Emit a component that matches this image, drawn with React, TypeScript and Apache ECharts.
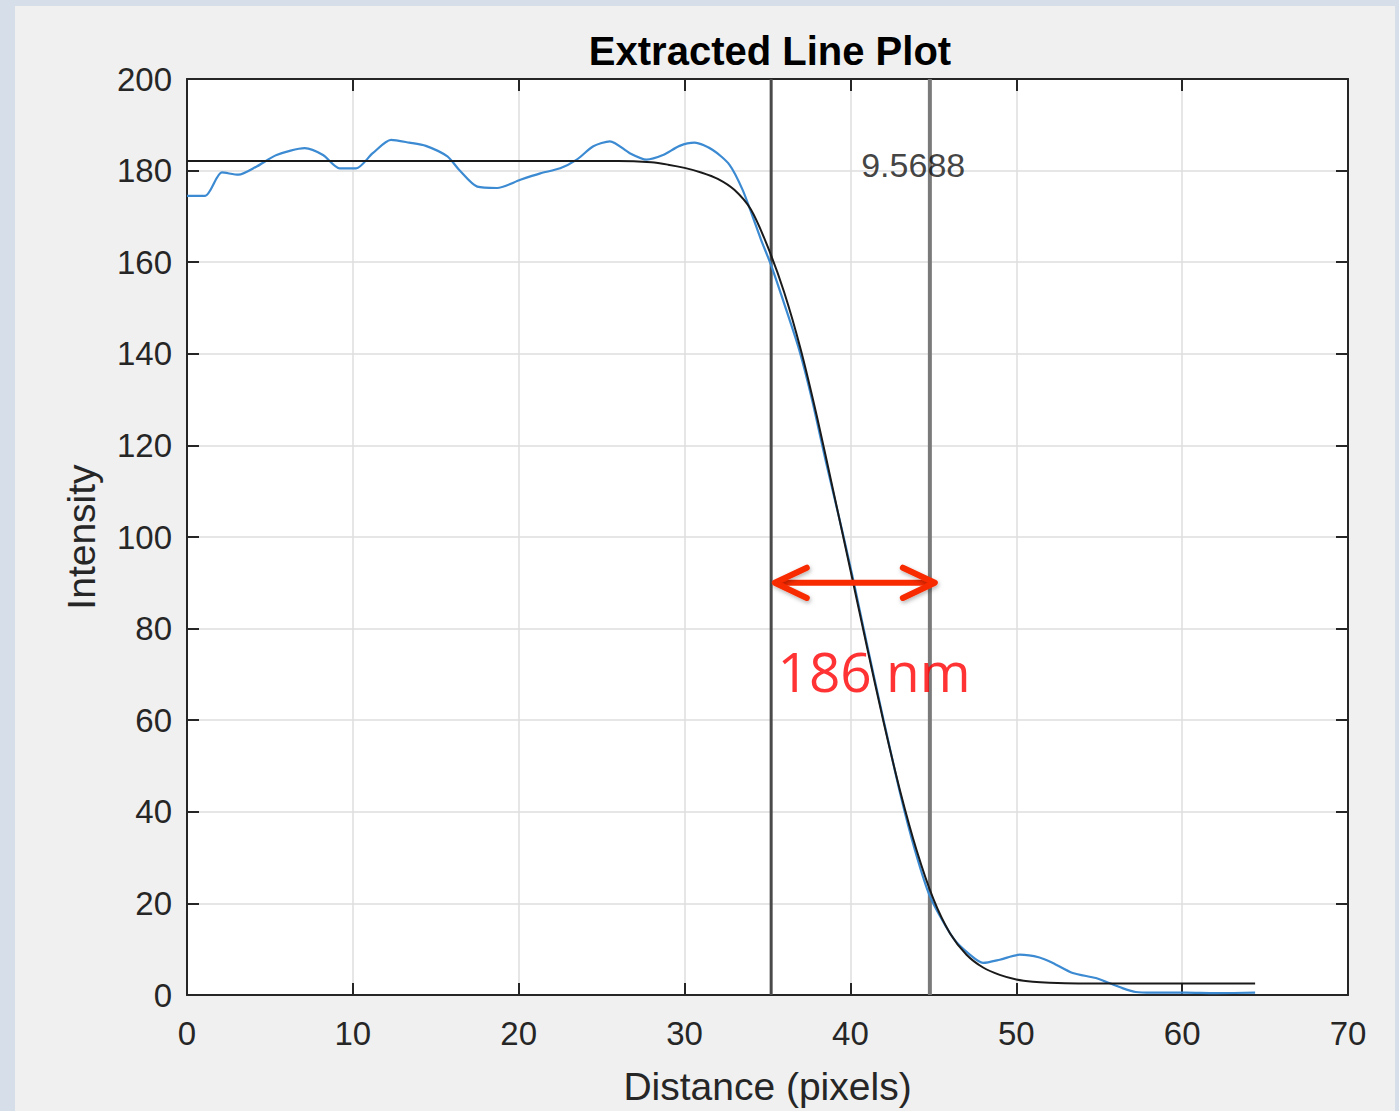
import React, { useEffect, useRef } from "react";
import * as echarts from "echarts";

// Measured blue profile: [distance (pixels), intensity]
const profileX = [0, 1.1, 2.1, 3.1, 4.2, 5.4, 7.1, 8.2, 9.2, 10.2, 11.2, 12.3, 13.4, 14.4, 15.7, 16.4, 17.5, 18.7, 20.1, 21.3, 22.5, 23.5, 24.5, 25.5, 26.7, 27.7, 28.7, 29.7, 30.6, 31.7, 32.7, 33.5, 34.1, 34.6, 35.2, 36.0, 36.9, 37.65, 38.55, 39.56, 40.27, 40.97, 41.97, 43.0, 43.9, 44.8, 46.2, 47.2, 48.0, 49.0, 50.2, 51.4, 52.2, 53.4, 54.8, 55.6, 56.4, 57.2, 58.2, 60.2, 62.0, 64.4];
const profileY = [174.5, 174.5, 179.6, 179.1, 180.9, 183.4, 184.9, 183.4, 180.5, 180.5, 183.8, 186.7, 186.1, 185.4, 183.1, 180.2, 176.5, 176.2, 178.0, 179.4, 180.5, 182.4, 185.3, 186.4, 183.8, 182.4, 183.4, 185.4, 186.1, 184.5, 181.3, 175.8, 170.0, 165.0, 159.5, 151.0, 141.0, 130.5, 116.0, 100.5, 89.0, 77.0, 60.5, 44.0, 31.5, 21.5, 12.4, 8.8, 7.0, 7.7, 8.8, 8.2, 7.0, 4.8, 3.7, 2.6, 1.5, 0.65, 0.5, 0.5, 0.4, 0.5];

// Black fitted edge curve
const fitX = [0, 26, 28, 29, 30, 31, 32, 33, 34, 35, 36, 37, 38, 39, 40, 41, 42, 43, 44, 45, 46, 47, 48, 49, 50, 51, 52, 55, 64.4];
const fitY = [182.1, 182.1, 181.8, 181.3, 180.6, 179.6, 178.2, 175.8, 171.5, 163.5, 153.5, 141.0, 126.0, 109.5, 92.8, 76.0, 59.6, 44.5, 31.5, 21.0, 13.5, 8.8, 6.0, 4.4, 3.4, 2.9, 2.7, 2.5, 2.5];

// 10%-90% edge markers
const edgeLeft = 35.22;
const edgeRight = 44.79;
const edgeWidthLabel = "9.5688";
const edgeLabelPos = [40.65, 181.3];

// Red annotation arrow
const arrowY = 90;
const arrowTipLeft = 35.44;
const arrowTipRight = 45.09;
const arrowHeadLen = 1.93;
const arrowHeadHalf = 3.3;
const annotationText = "186 nm";
const annotationPos = [35.6, 70.8];

const xTicks = [0, 10, 20, 30, 40, 50, 60, 70];
const yTicks = [0, 20, 40, 60, 80, 100, 120, 140, 160, 180, 200];

const FONT = "'Liberation Sans', Arial, Helvetica, sans-serif";
const AXIS_COLOR = "#262626";

export default function App() {
  const ref = useRef<HTMLDivElement>(null);

  useEffect(() => {
    if (!ref.current) return;
    const chart = echarts.init(ref.current, undefined, { renderer: "svg" });

    const profile = profileX.map((x, i) => [x, profileY[i]]);
    const fit = fitX.map((x, i) => [x, fitY[i]]);
    const red = "#f72a00";
    const headStyle = {
      color: red,
      width: 6,
      shadowBlur: 4,
      shadowColor: "rgba(0,0,0,0.3)",
      shadowOffsetX: 1,
      shadowOffsetY: 2,
      cap: "round" as const,
      join: "round" as const,
    };
    const shaftStyle = { color: red, width: 6, cap: "butt" as const };
    const xMin = xTicks[0];
    const xMax = xTicks[xTicks.length - 1];
    const yMin = yTicks[0];
    const yMax = yTicks[yTicks.length - 1];

    const baseX = { type: "value" as const, min: xMin, max: xMax, interval: 10 };
    const baseY = { type: "value" as const, min: yMin, max: yMax, interval: 20 };

    chart.setOption({
      animation: false,
      backgroundColor: "#d6dfe9",
      textStyle: { fontFamily: FONT },
      graphic: [
        {
          type: "rect",
          z: -10,
          shape: { x: 15, y: 6, width: 1380, height: 1111 },
          style: { fill: "#f0f0f0" },
          silent: true,
        },
      ],
      title: {
        text: "Extracted Line Plot",
        left: 765,
        top: 26,
        textAlign: "center",
        textStyle: { fontFamily: FONT, fontSize: 40, fontWeight: "bold", color: "#000" },
      },
      grid: {
        left: 187,
        top: 79,
        right: 51,
        bottom: 114,
        show: true,
        backgroundColor: "#ffffff",
        borderWidth: 0,
      },
      xAxis: [
        {
          ...baseX,
          position: "bottom",
          name: "Distance (pixels)",
          nameLocation: "middle",
          nameGap: 72,
          nameTextStyle: { fontFamily: FONT, fontSize: 39, color: AXIS_COLOR },
          axisLine: { show: true, onZero: false, lineStyle: { color: AXIS_COLOR, width: 2 } },
          axisTick: { show: true, inside: true, length: 12, lineStyle: { color: AXIS_COLOR, width: 2 } },
          axisLabel: { fontFamily: FONT, fontSize: 33, color: AXIS_COLOR, margin: 22 },
          splitLine: { show: true, lineStyle: { color: "#dedede", width: 1.5 } },
        },
        {
          ...baseX,
          position: "top",
          axisLine: { show: true, onZero: false, lineStyle: { color: AXIS_COLOR, width: 2 } },
          axisTick: { show: true, inside: true, length: 12, lineStyle: { color: AXIS_COLOR, width: 2 } },
          axisLabel: { show: false },
          splitLine: { show: false },
        },
      ],
      yAxis: [
        {
          ...baseY,
          position: "left",
          name: "Intensity",
          nameLocation: "middle",
          nameGap: 86,
          nameTextStyle: { fontFamily: FONT, fontSize: 39, color: AXIS_COLOR },
          axisLine: { show: true, onZero: false, lineStyle: { color: AXIS_COLOR, width: 2 } },
          axisTick: { show: true, inside: true, length: 12, lineStyle: { color: AXIS_COLOR, width: 2 } },
          axisLabel: { fontFamily: FONT, fontSize: 33, color: AXIS_COLOR, margin: 15, padding: [9, 0, 0, 0] },
          splitLine: { show: true, lineStyle: { color: "#dedede", width: 1.5 } },
        },
        {
          ...baseY,
          position: "right",
          axisLine: { show: true, onZero: false, lineStyle: { color: AXIS_COLOR, width: 2 } },
          axisTick: { show: true, inside: true, length: 12, lineStyle: { color: AXIS_COLOR, width: 2 } },
          axisLabel: { show: false },
          splitLine: { show: false },
        },
      ],
      series: [
        {
          name: "edgeLeft",
          type: "line",
          data: [[edgeLeft, yMin], [edgeLeft, yMax]],
          symbol: "none",
          lineStyle: { color: "#4a4a4a", width: 3 },
          z: 3,
        },
        {
          name: "edgeRight",
          type: "line",
          data: [[edgeRight, yMin], [edgeRight, yMax]],
          symbol: "none",
          lineStyle: { color: "#7a7a7a", width: 4 },
          z: 3,
        },
        {
          name: "profile",
          type: "line",
          data: profile,
          symbol: "none",
          smooth: 0.25,
          lineStyle: { color: "#3b8ad2", width: 2.2 },
          z: 4,
        },
        {
          name: "fit",
          type: "line",
          data: fit,
          symbol: "none",
          smooth: 0.3,
          lineStyle: { color: "#1a1a1a", width: 2 },
          z: 5,
        },
        {
          name: "width",
          type: "scatter",
          data: [edgeLabelPos],
          symbolSize: 1,
          itemStyle: { color: "rgba(0,0,0,0)" },
          label: {
            show: true,
            position: "inside",
            align: "left",
            verticalAlign: "middle",
            formatter: edgeWidthLabel,
            fontFamily: FONT,
            fontSize: 34,
            color: "#111111",
          },
          z: 6,
        },
        {
          name: "arrowShaft",
          type: "line",
          data: [[arrowTipLeft + 0.15, arrowY], [arrowTipRight - 0.15, arrowY]],
          symbol: "none",
          lineStyle: shaftStyle,
          z: 8,
        },
        {
          name: "arrowHeadLeft",
          type: "line",
          data: [
            [arrowTipLeft + arrowHeadLen, arrowY + arrowHeadHalf],
            [arrowTipLeft, arrowY],
            [arrowTipLeft + arrowHeadLen, arrowY - arrowHeadHalf],
          ],
          symbol: "none",
          lineStyle: headStyle,
          z: 8,
        },
        {
          name: "arrowHeadRight",
          type: "line",
          data: [
            [arrowTipRight - arrowHeadLen, arrowY + arrowHeadHalf],
            [arrowTipRight, arrowY],
            [arrowTipRight - arrowHeadLen, arrowY - arrowHeadHalf],
          ],
          symbol: "none",
          lineStyle: headStyle,
          z: 8,
        },
        {
          name: "annotation",
          type: "scatter",
          data: [annotationPos],
          symbolSize: 1,
          itemStyle: { color: "rgba(0,0,0,0)" },
          label: {
            show: true,
            position: "inside",
            align: "left",
            verticalAlign: "middle",
            formatter: annotationText,
            fontFamily: "'Open Sans', 'Liberation Sans', Arial, sans-serif",
            fontSize: 55,
            color: "#ff0000",
          },
          z: 9,
        },
      ],
    });

    return () => chart.dispose();
  }, []);

  return (
    <div
      ref={ref}
      style={{ position: "fixed", left: 0, top: 0, width: 1399, height: 1111 }}
    />
  );
}
